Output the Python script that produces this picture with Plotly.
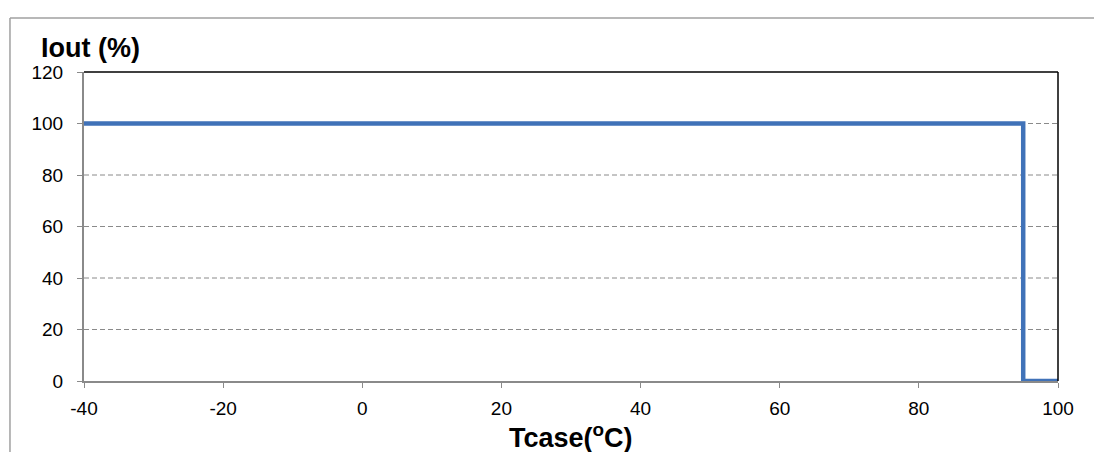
import plotly.graph_objects as go

# derating curve: output current vs case temperature
tcase = [-40, 95, 95, 100]
iout = [100, 100, 0, 0]

x_ticks = [-40, -20, 0, 20, 40, 60, 80, 100]
x_labels = ['-40', '-20', '0', '20', '40', '60', '80', '100']
y_ticks = [0, 20, 40, 60, 80, 100, 120]

fig = go.Figure()
fig.add_trace(go.Scatter(x=tcase, y=iout, mode='lines',
                         line=dict(color='#4072B8', width=4.5), showlegend=False))

# dashed gridlines (not drawn at 0 and 120)
for v in y_ticks[1:-1]:
    fig.add_hline(y=v, line=dict(color='#8a8a8a', width=1, dash='5px,3px'), layer='below')

tick_font = dict(size=19, color='black', family='Liberation Sans')
fig.update_xaxes(range=[-40, 100], tickvals=x_ticks, ticktext=x_labels, showgrid=False, zeroline=False,
                 showline=True, linecolor='#8a8a8a', linewidth=2, ticklabelstandoff=4,
                 ticks='outside', ticklen=5, tickcolor='#8a8a8a', tickfont=tick_font)
fig.update_yaxes(range=[0, 120], tickvals=y_ticks, showgrid=False, zeroline=False,
                 showline=True, linecolor='#8a8a8a', linewidth=2, ticklabelstandoff=10,
                 ticks='outside', ticklen=5, tickcolor='#8a8a8a', tickfont=tick_font)

# black frame on top and right of the plot area
fig.add_shape(type='line', xref='paper', yref='paper', x0=0, x1=1, y0=1, y1=1,
              line=dict(color='black', width=1.5))
fig.add_shape(type='line', xref='paper', yref='paper', x0=1, x1=1, y0=0, y1=1,
              line=dict(color='black', width=1.5))
# outer chart border (gray)
fig.add_shape(type='line', xref='paper', yref='paper', x0=-0.076, x1=1.06, y0=1.175, y1=1.175,
              line=dict(color='#a0a0a0', width=1.5))
fig.add_shape(type='line', xref='paper', yref='paper', x0=-0.076, x1=-0.076, y0=-0.3, y1=1.175,
              line=dict(color='#a0a0a0', width=1.5))

fig.add_annotation(text='<b>Iout (%)</b>', xref='paper', yref='paper', x=-0.046, y=1.078,
                   xanchor='left', yanchor='middle', showarrow=False,
                   font=dict(size=27, color='black', family='Liberation Sans'))
fig.add_annotation(text='<b>Tcase(<sup>o</sup>C)</b>', xref='paper', yref='paper', x=0.5, y=-0.178,
                   xanchor='center', yanchor='middle', showarrow=False,
                   font=dict(size=27, color='black', family='Liberation Sans'))

# page body has an 8px margin, so margins are shifted to keep the plot area in place
fig.update_layout(width=1102, height=452, margin=dict(l=76, r=52, t=64, b=79),
                  plot_bgcolor='white', paper_bgcolor='white')

fig.write_html("out.html")
